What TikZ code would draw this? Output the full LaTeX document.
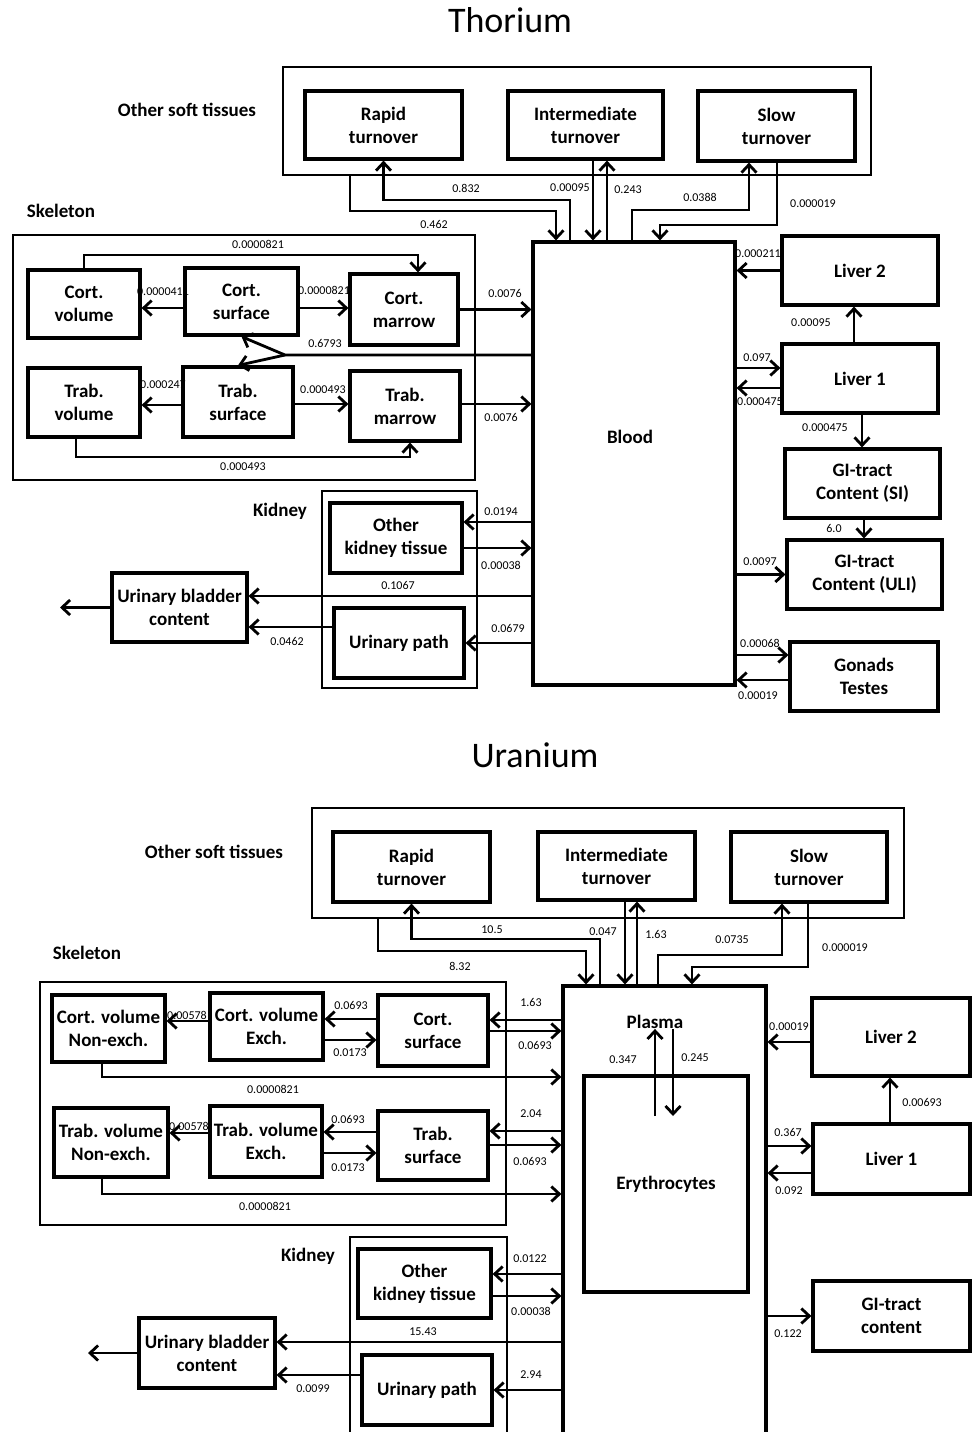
\documentclass[tikz,border=0pt]{standalone}
\usepackage{fontspec}
\setmainfont{Carlito}
\usetikzlibrary{arrows.meta}

\newcommand{\boxfont}{\fontsize{19}{23}\selectfont\bfseries}
\newcommand{\numfont}{\fontsize{12}{14}\selectfont}
\newcommand{\titlefont}{\fontsize{36}{40}\selectfont}

\tikzset{
  box/.style={draw, line width=3.2pt, align=center, font=\boxfont, inner sep=1pt},
  group/.style={draw, line width=1.6pt},
  flow/.style={->, line width=2.8pt},
  num/.style={font=\numfont, inner sep=0pt},
  lab/.style={font=\boxfont, inner sep=0pt},
}

\begin{document}
\begin{tikzpicture}[x=1pt,y=-1pt,>={Straight Barb[length=8pt,width=15pt]}]
  \useasboundingbox (0,0) rectangle (972,1432);
  \fill[white] (0,0) rectangle (972,1432);

  % ---------------- Thorium ----------------
  \node[font=\titlefont] (titleT) at (510,20) {Thorium};
  \node[lab] (softlabT) at (187,110) {Other soft tissues};
  \node[lab] (skellabT) at (61,211) {Skeleton};
  \node[lab] (kidlabT) at (280,511) {Kidney};

  \node[group, minimum width=588pt, minimum height=108pt] (softT) at (577,121) {};
  \node[group, minimum width=462pt, minimum height=245pt] (skelT) at (244,357.5) {};
  \node[group, minimum width=155pt, minimum height=197pt] (kidT) at (399.5,589.5) {};

  \node[box, minimum width=157pt, minimum height=68pt] (rapidT) at (383.5,125) {Rapid\\turnover};
  \node[box, minimum width=155pt, minimum height=68pt] (interT) at (585.5,125) {Intermediate\\turnover};
  \node[box, minimum width=157pt, minimum height=70pt] (slowT) at (776.5,126) {Slow\\turnover};
  \node[box, minimum width=202pt, minimum height=443pt] (bloodT) at (634,463.5) {};
  \node[lab] (bloodlab) at (630,437) {Blood};

  \node[box, minimum width=112pt, minimum height=68pt] (cvolT) at (84,304) {Cort.\\volume};
  \node[box, minimum width=113pt, minimum height=67pt] (csurfT) at (241.5,301.5) {Cort.\\surface};
  \node[box, minimum width=108pt, minimum height=71pt] (cmarT) at (404,309.5) {Cort.\\marrow};
  \node[box, minimum width=112pt, minimum height=69pt] (tvolT) at (84,402.5) {Trab.\\volume};
  \node[box, minimum width=110pt, minimum height=70pt] (tsurfT) at (238,402) {Trab.\\surface};
  \node[box, minimum width=110pt, minimum height=70pt] (tmarT) at (405,406) {Trab.\\marrow};

  \node[box, minimum width=156pt, minimum height=69pt] (liv2T) at (860,270.5) {Liver 2};
  \node[box, minimum width=156pt, minimum height=69pt] (liv1T) at (860,378.5) {Liver 1};
  \node[box, minimum width=155pt, minimum height=69pt] (gisiT) at (862.5,483.5) {GI-tract\\Content (SI)};
  \node[box, minimum width=155pt, minimum height=69pt] (guliT) at (864.5,574.5) {GI-tract\\ Content (ULI)};
  \node[box, minimum width=148pt, minimum height=69pt] (gonT) at (864,676.5) {Gonads\\Testes};

  \node[box, minimum width=132pt, minimum height=70pt] (okidT) at (396,538) {Other\\kidney tissue};
  \node[box, minimum width=130pt, minimum height=70pt] (upathT) at (399,643) {Urinary path};
  \node[box, minimum width=135pt, minimum height=69pt] (bladT) at (179.5,607.5) {Urinary bladder\\content};
  \coordinate (outT) at (60,607.5);

  \draw[flow] (350,0 |- softT.south) -- (350,211) -- (556,211) -- (556,0 |- bloodT.north);
  \draw[flow] (570,0 |- bloodT.north) -- (570,200) -- (383.5,200) -- (rapidT.south);
  \draw[flow] (593,0 |- interT.south) -- (593,0 |- bloodT.north);
  \draw[flow] (607,0 |- bloodT.north) -- (607,0 |- interT.south);
  \draw[flow] (632,0 |- bloodT.north) -- (632,210) -- (749,210) -- (749,0 |- slowT.south);
  \draw[flow] (777,0 |- slowT.south) -- (777,225) -- (660,225) -- (660,0 |- bloodT.north);

  \draw[flow] (cvolT.north) -- (84,255) -- (418,255) -- (418,0 |- cmarT.north);
  \draw[flow] (csurfT.west |- 0,308) -- (cvolT.east |- 0,308);
  \draw[flow] (csurfT.east |- 0,308) -- (cmarT.west |- 0,308);
  \draw[flow] (cmarT.east) -- (bloodT.west |- cmarT.east);
  \draw[flow] (bloodT.west |- 0,355) -- (285,355) -- (csurfT.south);
  \draw[flow] (285,355) -- (tsurfT.north);
  \draw[flow] (tsurfT.west |- 0,405) -- (tvolT.east |- 0,405);
  \draw[flow] (tsurfT.east |- 0,404) -- (tmarT.west |- 0,404);
  \draw[flow] (tmarT.east |- 0,404) -- (bloodT.west |- 0,404);
  \draw[flow] (76,0 |- tvolT.south) -- (76,457) -- (410,457) -- (410,0 |- tmarT.south);

  \draw[flow] (liv2T.west) -- (bloodT.east |- liv2T.west);
  \draw[flow] (854,0 |- liv1T.north) -- (854,0 |- liv2T.south);
  \draw[flow] (bloodT.east |- 0,368) -- (liv1T.west |- 0,368);
  \draw[flow] (liv1T.west |- 0,388) -- (bloodT.east |- 0,388);
  \draw[flow] (862,0 |- liv1T.south) -- (862,0 |- gisiT.north);
  \draw[flow] (864,0 |- gisiT.south) -- (864,0 |- guliT.north);
  \draw[flow] (bloodT.east |- guliT.west) -- (guliT.west);
  \draw[flow] (bloodT.east |- 0,655) -- (gonT.west |- 0,655);
  \draw[flow] (gonT.west |- 0,680) -- (bloodT.east |- 0,680);

  \draw[flow] (bloodT.west |- 0,522) -- (okidT.east |- 0,522);
  \draw[flow] (okidT.east |- 0,548) -- (bloodT.west |- 0,548);
  \draw[flow] (bloodT.west |- 0,596) -- (bladT.east |- 0,596);
  \draw[flow] (bloodT.west |- upathT.east) -- (upathT.east);
  \draw[flow] (upathT.west |- 0,627) -- (bladT.east |- 0,627);
  \draw[flow] (bladT.west) -- (outT);

  \foreach \x/\y/\t [count=\i] in {
      466/188/0.832, 434/224/0.462, 570/188/0.00095, 628/190/0.243,
      700/197/0.0388, 813/204/0.000019, 258/244/0.0000821, 163/292/0.0000411,
      324/290/0.0000821, 505/293/0.0076, 325/343/0.6793, 163/385/0.000247,
      323/390/0.000493, 501/417/0.0076, 243/467/0.000493, 758/254/0.000211,
      811/323/0.00095, 757/358/0.097, 760/402/0.000475, 825/428/0.000475,
      834/528/6.0, 760/562/0.0097, 760/643/0.00068, 758/696/0.00019,
      501/512/0.0194, 501/565/0.00038, 398/585/0.1067, 508/628/0.0679,
      287/641/0.0462}
    \node[num] (nT\i) at (\x,\y) {\t};

  % ---------------- Uranium ----------------
  \node[font=\titlefont] (titleU) at (535,755) {Uranium};
  \node[lab] (softlabU) at (214,852) {Other soft tissues};
  \node[lab] (skellabU) at (87,953) {Skeleton};
  \node[lab] (kidlabU) at (308,1256) {Kidney};

  \node[group, minimum width=592pt, minimum height=110pt] (softU) at (608,863) {};
  \node[group, minimum width=466pt, minimum height=243pt] (skelU) at (273,1103.5) {};
  \node[group, minimum width=157pt, minimum height=208pt] (kidU) at (428.5,1341) {};

  \node[box, minimum width=157pt, minimum height=70pt] (rapidU) at (411.5,867) {Rapid\\turnover};
  \node[box, minimum width=157pt, minimum height=68pt] (interU) at (616.5,866) {Intermediate\\turnover};
  \node[box, minimum width=156pt, minimum height=70pt] (slowU) at (809,867) {Slow\\turnover};
  \node[box, minimum width=203pt, minimum height=459pt] (plasmaU) at (664.5,1215.5) {};
  \node[lab] (plasmalab) at (655,1022) {Plasma};
  \node[box, minimum width=164pt, minimum height=216pt] (erythU) at (666,1184) {Erythrocytes};

  \node[box, minimum width=113pt, minimum height=67pt] (cnexU) at (108.5,1028.5) {Cort. volume\\Non-exch.};
  \node[box, minimum width=113pt, minimum height=67pt] (cexU) at (266.5,1026.5) {Cort. volume\\Exch.};
  \node[box, minimum width=110pt, minimum height=71pt] (csurfU) at (433,1030.5) {Cort.\\surface};
  \node[box, minimum width=114pt, minimum height=69pt] (tnexU) at (111,1142.5) {Trab. volume\\Non-exch.};
  \node[box, minimum width=112pt, minimum height=71pt] (texU) at (266,1141.5) {Trab. volume\\Exch.};
  \node[box, minimum width=110pt, minimum height=69pt] (tsurfU) at (433,1145.5) {Trab.\\surface};

  \node[box, minimum width=158pt, minimum height=78pt] (liv2U) at (891,1037) {Liver 2};
  \node[box, minimum width=157pt, minimum height=70pt] (liv1U) at (891.5,1159) {Liver 1};
  \node[box, minimum width=157pt, minimum height=70pt] (giU) at (891.5,1316) {GI-tract\\content};

  \node[box, minimum width=133pt, minimum height=69pt] (okidU) at (424.5,1283.5) {Other\\kidney tissue};
  \node[box, minimum width=130pt, minimum height=70pt] (upathU) at (427,1390) {Urinary path};
  \node[box, minimum width=136pt, minimum height=70pt] (bladU) at (207,1353) {Urinary bladder\\content};
  \coordinate (outU) at (88,1353);

  \draw[flow] (378,0 |- softU.south) -- (378,951) -- (586,951) -- (586,0 |- plasmaU.north);
  \draw[flow] (600,0 |- plasmaU.north) -- (600,939) -- (411.5,939) -- (rapidU.south);
  \draw[flow] (625,0 |- interU.south) -- (625,0 |- plasmaU.north);
  \draw[flow] (637,0 |- plasmaU.north) -- (637,0 |- interU.south);
  \draw[flow] (658,0 |- plasmaU.north) -- (658,955) -- (782,955) -- (782,0 |- slowU.south);
  \draw[flow] (808,0 |- slowU.south) -- (808,967) -- (692,967) -- (692,0 |- plasmaU.north);
  \draw[flow] (655,1116) -- (655,0 |- plasmalab.south);
  \draw[flow] (673,0 |- plasmalab.south) -- (673,1116);

  \draw[flow] (plasmaU.west |- 0,1020) -- (csurfU.east |- 0,1020);
  \draw[flow] (csurfU.east |- 0,1031) -- (plasmaU.west |- 0,1031);
  \draw[flow] (csurfU.west |- 0,1019) -- (cexU.east |- 0,1019);
  \draw[flow] (cexU.east |- 0,1040) -- (csurfU.west |- 0,1040);
  \draw[flow] (cexU.west |- 0,1021) -- (cnexU.east |- 0,1021);
  \draw[flow] (102,0 |- cnexU.south) -- (102,1077) -- (plasmaU.west |- 0,1077);
  \draw[flow] (plasmaU.west |- 0,1131) -- (tsurfU.east |- 0,1131);
  \draw[flow] (tsurfU.east |- 0,1145) -- (plasmaU.west |- 0,1145);
  \draw[flow] (tsurfU.west |- 0,1132) -- (texU.east |- 0,1132);
  \draw[flow] (texU.east |- 0,1153) -- (tsurfU.west |- 0,1153);
  \draw[flow] (texU.west |- 0,1133) -- (tnexU.east |- 0,1133);
  \draw[flow] (102,0 |- tnexU.south) -- (102,1194) -- (plasmaU.west |- 0,1194);

  \draw[flow] (liv2U.west |- 0,1042) -- (plasmaU.east |- 0,1042);
  \draw[flow] (890,0 |- liv1U.north) -- (890,0 |- liv2U.south);
  \draw[flow] (plasmaU.east |- 0,1146) -- (liv1U.west |- 0,1146);
  \draw[flow] (liv1U.west |- 0,1173) -- (plasmaU.east |- 0,1173);
  \draw[flow] (plasmaU.east |- giU.west) -- (giU.west);

  \draw[flow] (plasmaU.west |- 0,1274) -- (okidU.east |- 0,1274);
  \draw[flow] (okidU.east |- 0,1296) -- (plasmaU.west |- 0,1296);
  \draw[flow] (plasmaU.west |- 0,1342) -- (bladU.east |- 0,1342);
  \draw[flow] (plasmaU.west |- upathU.east) -- (upathU.east);
  \draw[flow] (upathU.west |- 0,1375) -- (bladU.east |- 0,1375);
  \draw[flow] (bladU.west) -- (outU);

  \foreach \x/\y/\t [count=\i] in {
      492/930/10.5, 460/966/8.32, 603/932/0.047, 656/934/1.63,
      732/940/0.0735, 845/948/0.000019, 531/1002/1.63, 535/1045/0.0693,
      351/1005/0.0693, 350/1053/0.0173, 187/1015/0.00578, 273/1089/0.0000821,
      531/1114/2.04, 530/1161/0.0693, 348/1119/0.0693, 348/1168/0.0173,
      189/1126/0.00578, 265/1206/0.0000821, 623/1060/0.347, 695/1058/0.245,
      789/1027/0.00019, 922/1102/0.00693, 788/1132/0.367, 789/1191/0.092,
      788/1334/0.122, 530/1259/0.0122, 531/1311/0.00038, 423/1332/15.43,
      531/1375/2.94, 313/1389/0.0099}
    \node[num] (nU\i) at (\x,\y) {\t};
\end{tikzpicture}
\end{document}
